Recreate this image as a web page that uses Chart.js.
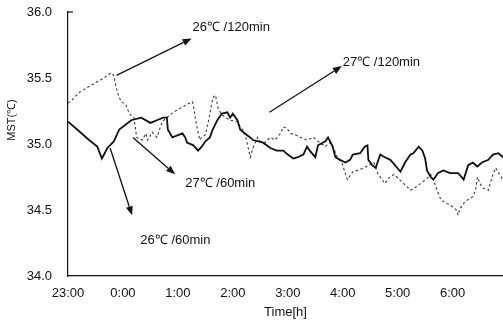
<!DOCTYPE html>
<html>
<head>
<meta charset="utf-8">
<script src="https://cdn.jsdelivr.net/npm/chart.js@4/dist/chart.umd.min.js"></script>
<style>
  html, body { margin: 0; padding: 0; background: #fff; }
  #wrap { width: 503px; height: 320px; position: relative; }
</style>
</head>
<body>
<div id="wrap"><canvas id="c" width="503" height="320"></canvas></div>
<script>
// ---- data (minutes after 23:00, MST in °C) ----
const tickLabels = ['23:00', '0:00', '1:00', '2:00', '3:00', '4:00', '5:00', '6:00'];
const yTickValues = [34.0, 34.5, 35.0, 35.5, 36.0];

const solidTimes = [0,10,23,32,37,43,50,56,69,80,90,97,104,108,109,114,125,128,130,137,142,146,150,155,158,163,168,174,177,180,185,188,193,199,202,208,213,221,228,235,240,246,251,257,261,264,270,273,281,284,289,292,297,303,308,311,319,324,327,328,332,336,341,346,352,357,363,368,374,377,383,387,390,392,396,399,404,410,417,426,432,437,442,447,452,459,464,470,475];
const solidValues = [35.17,35.11,35.03,34.98,34.89,34.97,35.02,35.11,35.18,35.20,35.16,35.18,35.20,35.20,35.11,35.05,35.08,35.05,35.01,34.99,34.95,34.98,35.02,35.05,35.11,35.18,35.23,35.24,35.20,35.23,35.18,35.11,35.08,35.05,35.03,35.02,35.01,34.97,34.95,34.95,34.92,34.89,34.90,34.92,34.98,34.95,34.90,34.99,35.02,35.05,34.98,34.90,34.88,34.86,34.88,34.92,34.93,34.98,34.99,34.88,34.84,34.82,34.92,34.90,34.88,34.84,34.79,34.86,34.92,34.93,34.98,34.95,34.89,34.80,34.75,34.73,34.78,34.80,34.78,34.78,34.73,34.84,34.86,34.83,34.86,34.88,34.92,34.93,34.90];

const dashedTimes = [0,4,12,24,34,39,47,50,52,54,58,63,67,72,75,81,85,87,92,97,103,108,115,122,130,136,139,141,144,146,150,153,155,158,161,164,168,177,185,188,193,199,202,207,210,215,221,226,232,235,239,243,248,254,261,268,273,281,286,290,294,299,305,311,316,323,329,334,338,343,346,350,356,362,368,374,379,385,392,396,399,403,407,413,417,421,424,426,428,432,437,442,445,447,452,459,463,467,471,475];
const dashedValues = [35.31,35.33,35.39,35.44,35.48,35.50,35.54,35.52,35.45,35.39,35.32,35.30,35.23,35.20,35.05,35.03,35.08,35.03,35.09,35.05,35.17,35.20,35.24,35.27,35.30,35.32,35.20,35.12,35.03,35.05,35.07,35.16,35.23,35.35,35.37,35.27,35.22,35.18,35.17,35.13,35.09,34.90,34.97,35.05,35.02,35.01,35.05,35.03,35.08,35.13,35.12,35.08,35.07,35.05,35.03,35.05,35.02,34.98,35.01,34.97,34.90,34.86,34.73,34.79,34.80,34.82,34.84,34.86,34.78,34.73,34.70,34.74,34.77,34.73,34.69,34.65,34.67,34.70,34.74,34.77,34.73,34.65,34.58,34.55,34.54,34.52,34.50,34.46,34.51,34.55,34.58,34.60,34.65,34.75,34.67,34.65,34.75,34.82,34.77,34.73];

const seriesLabels = ['26℃ /120min', '27℃ /120min', '27℃ /60min', '26℃ /60min'];

// ---- annotation anchors (data coordinates) ----
const notes = [
  { text: seriesLabels[0], tail: [53, 35.52], head: [135, 35.80], at: [136, 35.88] },
  { text: seriesLabels[1], tail: [220, 35.24], head: [299, 35.59], at: [300, 35.62] },
  { text: seriesLabels[2], tail: [71, 35.05], head: [117, 34.77], at: [128, 34.70] },
  { text: seriesLabels[3], tail: [46, 34.97], head: [70, 34.46], at: [79, 34.27] }
];

const toXY = (ts, vs) => ts.map((t, i) => ({ x: t, y: vs[i] }));

const FONT = "'Liberation Sans', Arial, sans-serif";

const annotatePlugin = {
  id: 'annotate',
  afterDatasetsDraw(chart) {
    const { ctx, chartArea, scales: { x, y } } = chart;
    ctx.save();
    ctx.strokeStyle = '#111';
    ctx.fillStyle = '#111';
    // small stub at top of y axis
    ctx.lineWidth = 1.2;
    ctx.beginPath();
    ctx.moveTo(chartArea.left, chartArea.top);
    ctx.lineTo(chartArea.left + 5, chartArea.top);
    ctx.stroke();
    ctx.lineWidth = 1.3;
    notes.forEach(n => {
      const x0 = x.getPixelForValue(n.tail[0]), y0 = y.getPixelForValue(n.tail[1]);
      const x1 = x.getPixelForValue(n.head[0]), y1 = y.getPixelForValue(n.head[1]);
      const ang = Math.atan2(y1 - y0, x1 - x0);
      const L = 9, W = 3.5;
      const bx = x1 - L * Math.cos(ang), by = y1 - L * Math.sin(ang);
      ctx.beginPath();
      ctx.moveTo(x0, y0);
      ctx.lineTo(bx, by);
      ctx.stroke();
      ctx.beginPath();
      ctx.moveTo(x1, y1);
      ctx.lineTo(bx + W * Math.sin(ang), by - W * Math.cos(ang));
      ctx.lineTo(bx - W * Math.sin(ang), by + W * Math.cos(ang));
      ctx.closePath();
      ctx.fill();
      ctx.font = '13px ' + FONT;
      ctx.textAlign = 'left';
      ctx.textBaseline = 'middle';
      ctx.fillStyle = '#111';
      ctx.fillText(n.text, x.getPixelForValue(n.at[0]), y.getPixelForValue(n.at[1]));
    });
    // y axis title
    ctx.save();
    ctx.translate(12, 120);
    ctx.rotate(-Math.PI / 2);
    ctx.font = '11px ' + FONT;
    ctx.textAlign = 'center';
    ctx.textBaseline = 'middle';
    ctx.fillText('MST(℃)', 0, 0);
    ctx.restore();
    ctx.restore();
  }
};

new Chart(document.getElementById('c'), {
  type: 'line',
  data: {
    datasets: [
      {
        label: 'solid',
        data: toXY(solidTimes, solidValues),
        borderColor: '#111',
        borderWidth: 1.8,
        pointRadius: 0,
        tension: 0,
        fill: false
      },
      {
        label: 'dashed',
        data: toXY(dashedTimes, dashedValues),
        borderColor: '#3a3a3a',
        borderWidth: 1.1,
        borderDash: [2.5, 2.5],
        pointRadius: 0,
        tension: 0,
        fill: false
      }
    ]
  },
  options: {
    responsive: false,
    animation: false,
    devicePixelRatio: 1,
    layout: { padding: { top: 12, right: 0, left: 0, bottom: 0 } },
    plugins: { legend: { display: false }, tooltip: { enabled: false } },
    scales: {
      x: {
        type: 'linear',
        min: 0,
        max: 475,
        afterBuildTicks: s => { s.ticks = tickLabels.map((_, i) => ({ value: i * 60 })); },
        afterFit: s => { s.height = 44; s.paddingLeft = 0; s.paddingRight = 0; },
        grid: { display: false, drawTicks: false },
        border: { display: true, color: '#111', width: 1.2 },
        ticks: {
          autoSkip: false,
          maxRotation: 0,
          padding: 10,
          color: '#111',
          font: { family: FONT, size: 13 },
          callback: v => tickLabels[Math.round(v / 60)]
        },
        title: {
          display: true,
          text: 'Time[h]',
          color: '#111',
          font: { family: FONT, size: 13 },
          padding: { top: 0, bottom: 0 }
        }
      },
      y: {
        min: 34,
        max: 36,
        afterBuildTicks: s => { s.ticks = yTickValues.map(v => ({ value: v })); },
        afterFit: s => { s.width = 68; s.paddingTop = 0; s.paddingBottom = 0; },
        grid: { display: false, drawTicks: false },
        border: { display: true, color: '#111', width: 1.2 },
        ticks: {
          padding: 16,
          color: '#111',
          font: { family: FONT, size: 13 },
          callback: v => Number(v).toFixed(1)
        }
      }
    }
  },
  plugins: [annotatePlugin]
});
</script>
</body>
</html>
